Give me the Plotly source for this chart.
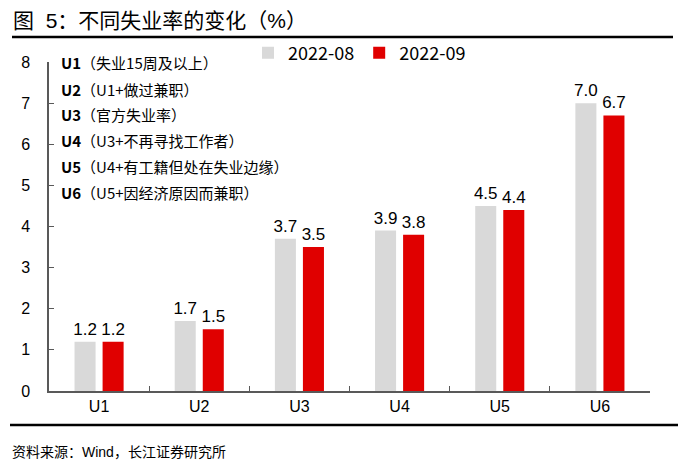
import plotly.graph_objects as go

categories = ["U1", "U2", "U3", "U4", "U5", "U6"]
series_names = ["2022-08", "2022-09"]
values_aug = [1.2, 1.7, 3.7, 3.9, 4.5, 7.0]
values_sep = [1.2, 1.5, 3.5, 3.8, 4.4, 6.7]
y_ticks = [0, 1, 2, 3, 4, 5, 6, 7, 8]
note_keys = ["U1", "U2", "U3", "U4", "U5", "U6"]
note_texts = ["（失业15周及以上）", "（U1+做过兼职）", "（官方失业率）",
              "（U3+不再寻找工作者）", "（U4+有工籍但处在失业边缘）", "（U5+因经济原因而兼职）"]
title_text = "图  5：不同失业率的变化（%）"
source_text = "资料来源：Wind，长江证券研究所"

OFF = 8  # page offset of the figure inside the browser window
W, H = 686 - OFF, 473 - OFF
L, R, T, B = 49 - OFF, 650 - OFF, 62 - OFF, 391 - OFF

FONT = "Liberation Sans, Arial, Noto Sans CJK SC, sans-serif"
CJK = "Noto Sans CJK SC, Microsoft YaHei, sans-serif"

fig = go.Figure()
fig.add_trace(go.Bar(x=categories, y=values_aug, name=series_names[0],
                     marker=dict(color="#d9d9d9", line=dict(width=0)),
                     texttemplate="%{y:.1f}", textposition="outside", textangle=0,
                     constraintext="none",
                     textfont=dict(size=17, color="#000000", family=FONT),
                     cliponaxis=False))
fig.add_trace(go.Bar(x=categories, y=values_sep, name=series_names[1],
                     marker=dict(color="#e00000", line=dict(width=0)),
                     texttemplate="%{y:.1f}", textposition="outside", textangle=0,
                     constraintext="none",
                     textfont=dict(size=17, color="#000000", family=FONT),
                     cliponaxis=False))

def px_x(x):
    return (x - OFF - L) / (R - L)

def px_y(y):
    return (B - (y - OFF)) / (B - T)

annotations = []
annotations.append(dict(text=title_text, xref="paper", yref="paper",
                        x=px_x(11), y=px_y(20), xanchor="left", yanchor="middle",
                        showarrow=False, font=dict(size=21, color="#000000", family=FONT)))
annotations.append(dict(text=source_text, xref="paper", yref="paper",
                        x=px_x(10), y=px_y(452), xanchor="left", yanchor="middle",
                        showarrow=False, font=dict(size=14, color="#000000", family=FONT)))
note_y = [63, 89, 114, 140, 166, 192]
for k, t, yy in zip(note_keys, note_texts, note_y):
    annotations.append(dict(text="<b>" + k + "</b>" + t, xref="paper", yref="paper",
                            x=px_x(59), y=px_y(yy), xanchor="left", yanchor="middle",
                            showarrow=False, font=dict(size=15, color="#000000", family=CJK)))

shapes = [
    dict(type="line", xref="paper", yref="paper", x0=px_x(12), x1=px_x(673),
         y0=px_y(37), y1=px_y(37), line=dict(color="#000000", width=2.5)),
    dict(type="line", xref="paper", yref="paper", x0=px_x(10), x1=px_x(679),
         y0=px_y(425), y1=px_y(425), line=dict(color="#000000", width=2.5)),
]

fig.update_layout(
    width=W, height=H,
    margin=dict(l=L, r=W - R, t=T, b=H - B, pad=0),
    paper_bgcolor="#ffffff", plot_bgcolor="#ffffff",
    barmode="group", bargap=0.44, bargroupgap=0.25,
    font=dict(family=FONT, color="#000000"),
    showlegend=True,
    legend=dict(orientation="h", x=px_x(248), y=px_y(53), xanchor="left", yanchor="middle",
                font=dict(size=18, family=CJK, color="#000000"),
                bgcolor="rgba(0,0,0,0)", itemwidth=30, tracegroupgap=0),
    annotations=annotations,
    shapes=shapes,
    xaxis=dict(showline=True, linecolor="#595959", linewidth=1.5,
               ticks="inside", tickson="boundaries", ticklen=5, tickcolor="#595959",
               tickfont=dict(size=16, color="#000000", family=FONT),
               showgrid=False, zeroline=False),
    yaxis=dict(range=[0, 8], tickvals=y_ticks, showline=True, linecolor="#595959", linewidth=1.5,
               ticks="inside", ticklen=5, tickcolor="#595959",
               tickfont=dict(size=16, color="#000000", family=FONT),
               showgrid=False, zeroline=False, ticklabelstandoff=14),
)

fig.write_html("out.html")
